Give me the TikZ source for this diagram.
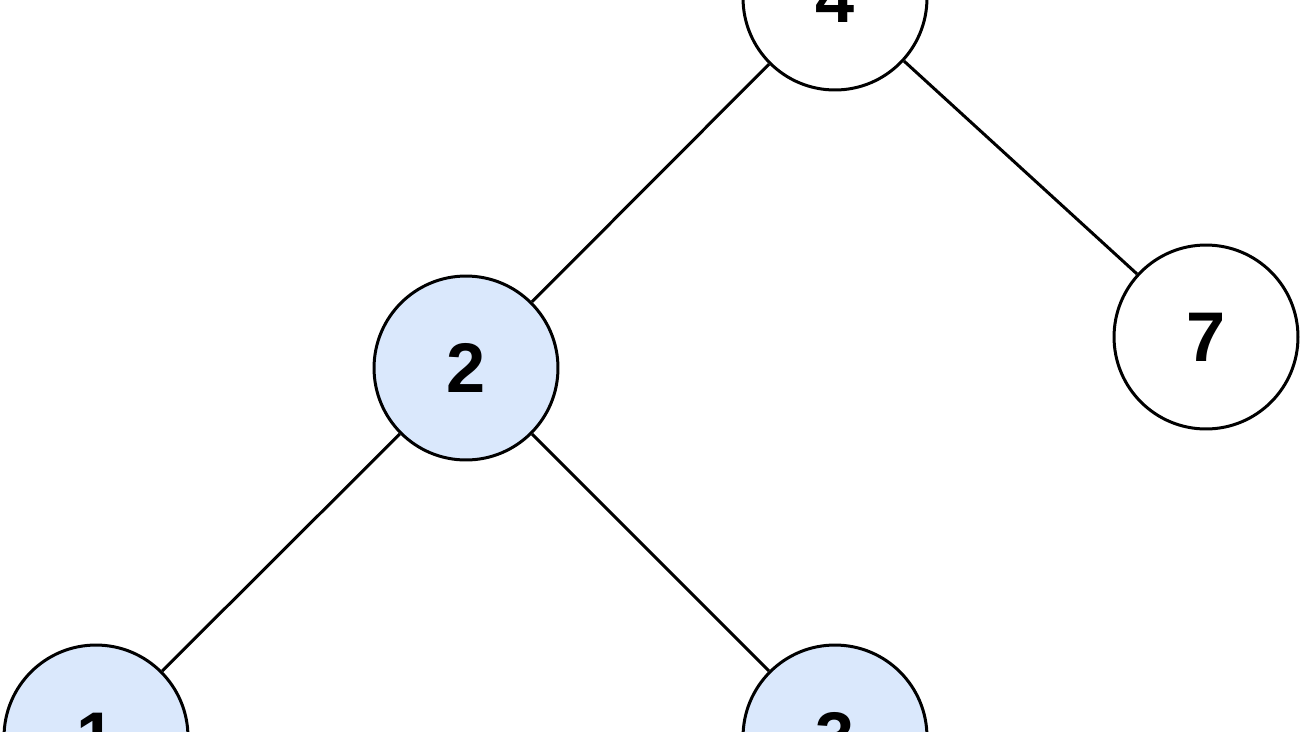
\documentclass[tikz,border=0pt]{standalone}
\usepackage{fontspec}
\setmainfont{Liberation Sans}
\usetikzlibrary{positioning}

\definecolor{nodeblue}{HTML}{DAE8FC}

\begin{document}
\begin{tikzpicture}[
  x=0.02cm, y=-0.02cm,
  vertex/.style={circle, draw, line width=0.06cm, minimum size=3.68cm, inner sep=0pt,
    font=\bfseries\fontsize{40}{48}\selectfont, fill=white},
  marked/.style={vertex, fill=nodeblue},
  edge/.style={line width=0.06cm}
]
\clip (0,0) rectangle (1300,731);
\useasboundingbox (0,0) rectangle (1300,731);

\node[vertex] (n4) at (835,-2) {4};
\node[marked] (n2) at (466,368) {2};
\node[vertex] (n7) at (1206,337) {7};
\node[marked] (n1) at (96,737) {1};
\node[marked] (n3) at (835,737) {3};

\draw[edge] (n4) -- (n2);
\draw[edge] (n4) -- (n7);
\draw[edge] (n2) -- (n1);
\draw[edge] (n2) -- (n3);

\end{tikzpicture}
\end{document}
